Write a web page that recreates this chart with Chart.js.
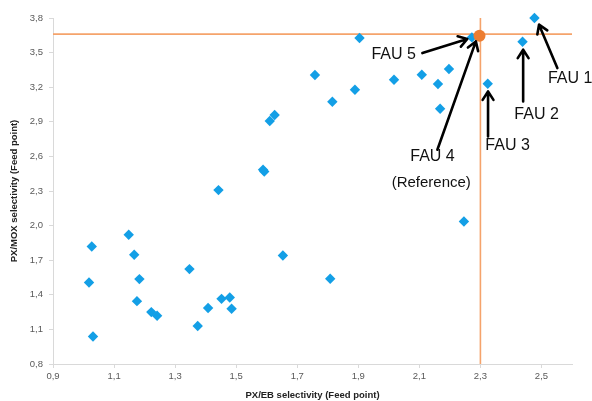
<!DOCTYPE html>
<html>
<head>
<meta charset="utf-8">
<script src="https://cdn.jsdelivr.net/npm/chart.js@4/dist/chart.umd.min.js"></script>
<style>
html,body{margin:0;padding:0;background:#fff;}
canvas{display:block;}
</style>
</head>
<body>
<canvas id="c" width="592" height="401"></canvas>
<script>
// ---- data ----
const pxEb = [2.477,2.438,2.324,2.272,2.108,2.197,2.161,2.168,1.904,1.758,1.889,1.815,2.017,1.626,1.610,1.442,1.588,1.592,1.148,1.027,1.166,1.018,1.183,1.347,1.175,1.222,1.241,1.031,1.374,1.408,1.452,1.479,1.485,1.653,1.808,2.246];
const pxMox = [3.800,3.594,3.230,3.632,3.308,3.358,3.228,3.013,3.627,3.306,3.178,3.074,3.265,2.959,2.907,2.308,2.485,2.468,1.921,1.819,1.747,1.507,1.536,1.623,1.345,1.250,1.218,1.038,1.129,1.285,1.365,1.377,1.279,1.741,1.539,2.036];
const refX = [2.297];
const refY = [3.646];
const refLineX = 2.30;
const refLineY = 3.66;
const xTicks = [0.9,1.1,1.3,1.5,1.7,1.9,2.1,2.3,2.5];
const yTicks = [0.8,1.1,1.4,1.7,2.0,2.3,2.6,2.9,3.2,3.5,3.8];
const xRange = [0.9, 2.6];
const yRange = [0.8, 3.8];
// annotation labels: text, anchor (x,y) in data units, arrow tail/head in data units
const labelTexts = ["FAU 5","FAU 4","(Reference)","FAU 3","FAU 2","FAU 1"];
const labelX = [2.016,2.143,2.139,2.389,2.484,2.594];
const labelY = [3.482,2.600,2.369,2.695,2.961,3.274];
const arrowTailX = [2.110,2.159,2.325,2.440,2.552];
const arrowTailY = [3.496,2.658,2.773,3.077,3.366];
const arrowHeadX = [2.257,2.285,2.325,2.440,2.492];
const arrowHeadY = [3.618,3.597,3.163,3.525,3.742];

const points = pxEb.map((x,i)=>({x:x,y:pxMox[i]}));
const refPts = refX.map((x,i)=>({x:x,y:refY[i]}));
const comma = v => v.toFixed(1).replace('.',',');

const annotPlugin = {
  id:'annot',
  afterDatasetsDraw(chart){
    const ctx = chart.ctx, xs = chart.scales.x, ys = chart.scales.y;
    ctx.save();
    ctx.strokeStyle = '#000';
    ctx.lineWidth = 2.6;
    ctx.lineCap = 'round';
    ctx.lineJoin = 'round';
    for (let i=0;i<arrowTailX.length;i++){
      const x1 = xs.getPixelForValue(arrowTailX[i]), y1 = ys.getPixelForValue(arrowTailY[i]);
      const x2 = xs.getPixelForValue(arrowHeadX[i]), y2 = ys.getPixelForValue(arrowHeadY[i]);
      const a = Math.atan2(y2-y1, x2-x1), L = 10, w = Math.PI/5.5;
      ctx.beginPath();
      ctx.moveTo(x1,y1); ctx.lineTo(x2,y2);
      ctx.moveTo(x2 - L*Math.cos(a-w), y2 - L*Math.sin(a-w));
      ctx.lineTo(x2,y2);
      ctx.lineTo(x2 - L*Math.cos(a+w), y2 - L*Math.sin(a+w));
      ctx.stroke();
    }
    ctx.fillStyle = '#111';
    ctx.textAlign = 'center';
    ctx.textBaseline = 'middle';
    for (let i=0;i<labelTexts.length;i++){
      ctx.font = (labelTexts[i].startsWith('(') ? '15px' : '16px') + ' "Liberation Sans", Arial, sans-serif';
      ctx.fillText(labelTexts[i], xs.getPixelForValue(labelX[i]), ys.getPixelForValue(labelY[i]));
    }
    ctx.restore();
  }
};

new Chart(document.getElementById('c'), {
  type:'scatter',
  data:{
    datasets:[
      {type:'line', data:[{x:refLineX,y:yRange[0]},{x:refLineX,y:yRange[1]}], borderColor:'#f5a36b', borderWidth:1.6, pointRadius:0, order:3},
      {type:'line', data:[{x:xRange[0],y:refLineY},{x:xRange[1],y:refLineY}], borderColor:'#f5a36b', borderWidth:1.6, pointRadius:0, order:3},
      {data:points, pointStyle:'rectRot', pointRadius:5.2, backgroundColor:'#139fe6', borderColor:'#139fe6', borderWidth:0, order:2, clip:false},
      {data:refPts, pointStyle:'circle', pointRadius:6, backgroundColor:'#ed7d31', borderColor:'#ed7d31', borderWidth:0, order:1, clip:false}
    ]
  },
  plugins:[annotPlugin],
  options:{
    responsive:false,
    animation:false,
    events:[],
    layout:{padding:{left:0,top:18,right:20,bottom:0}},
    plugins:{legend:{display:false}, tooltip:{enabled:false}},
    scales:{
      x:{
        type:'linear', min:xRange[0], max:xRange[1],
        afterBuildTicks(s){ s.ticks = xTicks.map(v=>({value:v})); },
        afterFit(s){ s.height = 37; },
        grid:{drawOnChartArea:false, drawTicks:true, tickLength:4, color:'#d9d9d9'},
        border:{color:'#d9d9d9', width:1},
        ticks:{callback:v=>comma(v), color:'#595959', font:{family:'"Liberation Sans", Arial, sans-serif', size:9.5}, padding:3, maxRotation:0, autoSkip:false},
        title:{display:true, text:'PX/EB selectivity (Feed point)', color:'#222', font:{family:'"Liberation Sans", Arial, sans-serif', size:9.5, weight:'bold'}, padding:{top:0,bottom:0}}
      },
      y:{
        type:'linear', min:yRange[0], max:yRange[1],
        afterBuildTicks(s){ s.ticks = yTicks.map(v=>({value:v})); },
        afterFit(s){ s.width = 53; },
        grid:{drawOnChartArea:false, drawTicks:true, tickLength:4, color:'#d9d9d9'},
        border:{color:'#d9d9d9', width:1},
        ticks:{callback:v=>comma(v), color:'#595959', font:{family:'"Liberation Sans", Arial, sans-serif', size:9.5}, padding:6, autoSkip:false},
        title:{display:true, text:'PX/MOX selectivity (Feed point)', color:'#222', font:{family:'"Liberation Sans", Arial, sans-serif', size:9.5, weight:'bold'}, padding:{top:9,bottom:0}}
      }
    }
  }
});
</script>
</body>
</html>
